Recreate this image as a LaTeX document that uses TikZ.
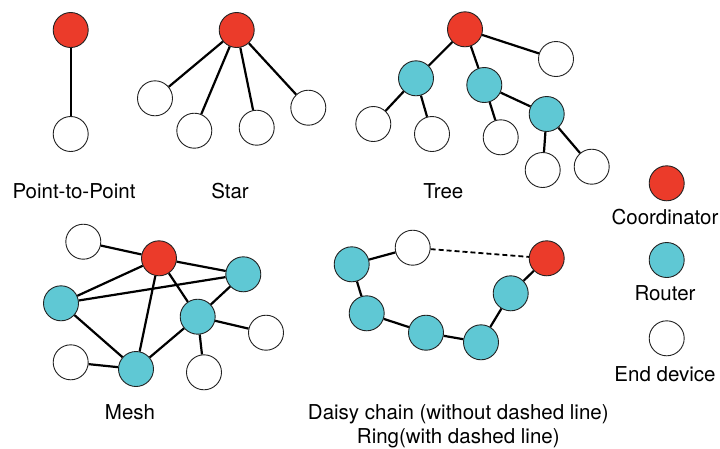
\documentclass[tikz,border=0pt]{standalone}
\usepackage{fontspec}
\setmainfont{TeX Gyre Heros}
\usepackage{tikz}
\usetikzlibrary{positioning}
\definecolor{coordred}{HTML}{EB3B2A}
\definecolor{routercyan}{HTML}{5FC8D4}
\definecolor{rim}{HTML}{222222}

\begin{document}
\begin{tikzpicture}[
  x=1pt,y=-1pt,
  dev/.style={circle,draw=rim,line width=0.9pt,minimum size=35pt,inner sep=0pt},
  coord/.style={dev,fill=coordred},
  router/.style={dev,fill=routercyan},
  enddev/.style={dev,fill=white},
  link/.style={line width=2.2pt,black},
  lbl/.style={font=\fontsize{20.5}{24}\selectfont,anchor=base,inner sep=0pt}
]
  \useasboundingbox (0,0) rectangle (720,448);
  % point-to-point
  \node[coord]  (pc) at (70.7,30)  {};
  \node[enddev] (pe) at (70.7,134) {};
  \draw[link] (pc) -- (pe);
  \node[lbl] (plbl) at (74,198) {Point-to-Point};
  % star
  \node[coord]  (sc) at (236.7,30)   {};
  \node[enddev] (s1) at (155,98.3)   {};
  \node[enddev] (s2) at (194.3,130.7) {};
  \node[enddev] (s3) at (256.7,127.7) {};
  \node[enddev] (s4) at (308.3,107.7) {};
  \foreach \n in {s1,s2,s3,s4} \draw[link] (sc) -- (\n);
  \node[lbl] (slbl) at (230,198) {Star};
  % tree
  \node[coord]  (tc)  at (465,29.3)    {};
  \node[enddev] (te0) at (556,59)      {};
  \node[router] (tr1) at (416,78.3)    {};
  \node[router] (tr2) at (484.3,85)    {};
  \node[router] (tr3) at (546.7,114)   {};
  \node[enddev] (te1) at (373.3,124)   {};
  \node[enddev] (te2) at (432,134)     {};
  \node[enddev] (te3) at (500.7,137.3) {};
  \node[enddev] (te4) at (542.7,170)   {};
  \node[enddev] (te5) at (591.7,166.7) {};
  \foreach \a/\b in {tc/tr1,tc/tr2,tc/te0,tr1/te1,tr1/te2,tr2/te3,tr2/tr3,tr3/te4,tr3/te5}
    \draw[link] (\a) -- (\b);
  \node[lbl] (tlbl) at (443.3,198) {Tree};
  % mesh
  \node[enddev] (me1) at (83.3,241.7)  {};
  \node[coord]  (mc)  at (159,258.3)   {};
  \node[router] (mr1) at (243.3,274.3) {};
  \node[router] (mr2) at (61,303.3)    {};
  \node[router] (mr3) at (197.7,316.7) {};
  \node[enddev] (me2) at (266,332.7)   {};
  \node[enddev] (me3) at (70.7,362.3)  {};
  \node[router] (mr4) at (136,369)     {};
  \node[enddev] (me4) at (204,372.3)   {};
  \foreach \a/\b in {me1/mc,mc/mr1,mc/mr2,mc/mr4,mc/mr3,mr2/mr1,mr2/mr4,mr4/mr3,mr3/mr1,mr3/me2,mr3/me4,me3/mr4}
    \draw[link] (\a) -- (\b);
  \node[lbl] (mlbl) at (130,419.3) {Mesh};
  % daisy chain / ring
  \node[router] (dr1) at (351.7,264.3) {};
  \node[enddev] (de)  at (412.7,247.7) {};
  \node[coord]  (dc)  at (546.7,258.3) {};
  \node[router] (dr2) at (366.7,313.3) {};
  \node[router] (dr3) at (426,332.7)   {};
  \node[router] (dr4) at (481,342.3)   {};
  \node[router] (dr5) at (510.7,293.3) {};
  \foreach \a/\b in {de/dr1,dr1/dr2,dr2/dr3,dr3/dr4,dr4/dr5,dr5/dc}
    \draw[link] (\a) -- (\b);
  \draw[link,line width=1.8pt,dash pattern=on 5pt off 3pt] (de) -- (dc);
  \node[lbl] (dlbl) at (458.3,419.3) {Daisy chain (without dashed line)};
  \node[lbl] (rlbl) at (458.3,443.3) {Ring(with dashed line)};
  % legend
  \node[coord]  (kc) at (666.7,183.3) {};
  \node[lbl] (kclbl) at (665,224) {Coordinator};
  \node[router] (kr) at (666.7,260) {};
  \node[lbl] (krlbl) at (665,300.7) {Router};
  \node[enddev] (ke) at (666.7,338.3) {};
  \node[lbl] (kelbl) at (665,381.7) {End device};
\end{tikzpicture}
\end{document}
